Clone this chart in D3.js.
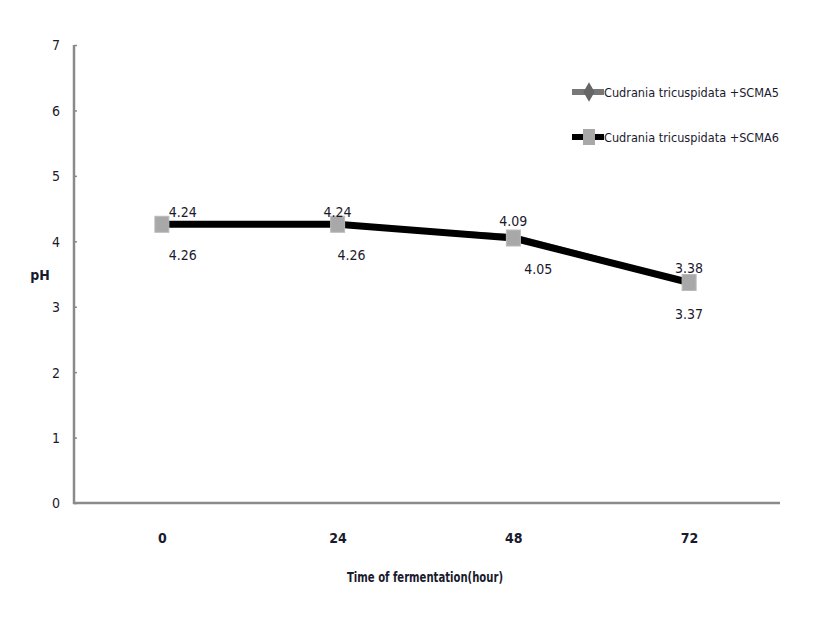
<!DOCTYPE html>
<html><head><meta charset="utf-8">
<script src="https://cdn.jsdelivr.net/npm/d3@7"></script>
<style>
body{margin:0;background:#fff;}
text{font-family:"Liberation Sans Narrow","DejaVu Sans Condensed","Liberation Sans",sans-serif;fill:#1a1a2e;}
</style></head><body>
<svg id="c" width="827" height="618"></svg>
<script>
const categories = ["0", "24", "48", "72"];
const seriesNames = ["Cudrania tricuspidata +SCMA5", "Cudrania tricuspidata +SCMA6"];
const scma5 = [4.24, 4.24, 4.09, 3.38];
const scma6 = [4.26, 4.26, 4.05, 3.37];
const yTicks = [0, 1, 2, 3, 4, 5, 6, 7];

const svg = d3.select("#c");
const pLeft = 74, pRight = 777, pTop = 45, pBottom = 503;
const x = d3.scalePoint().domain(categories).range([pLeft, pRight]).padding(0.5);
const y = d3.scaleLinear().domain([0, 7]).range([pBottom, pTop]);

// axes
const ya = svg.append("g").attr("transform", `translate(${pLeft},0)`)
  .call(d3.axisRight(y).tickValues(yTicks).tickSize(3).tickFormat(d3.format("d")));
ya.select(".domain").remove();
ya.selectAll(".tick line").attr("stroke", "#888").attr("stroke-width", 1.5);
ya.selectAll(".tick text").attr("x", -18).attr("text-anchor", "middle").attr("font-size", 14).attr("dy", "0.35em");
svg.append("line").attr("x1", pLeft).attr("x2", pLeft).attr("y1", pTop).attr("y2", pBottom + 1)
  .attr("stroke", "#8a8a8a").attr("stroke-width", 2.5);

const xa = svg.append("g").attr("transform", `translate(0,${pBottom})`)
  .call(d3.axisBottom(x).tickSize(0).tickPadding(30));
xa.select(".domain").remove();
xa.selectAll(".tick text").attr("font-size", 14).attr("font-weight", "bold");
svg.append("line").attr("x1", pLeft - 1).attr("x2", pRight + 3).attr("y1", pBottom).attr("y2", pBottom)
  .attr("stroke", "#8a8a8a").attr("stroke-width", 2.5);

svg.append("text").attr("x", 425).attr("y", 582).attr("text-anchor", "middle")
  .attr("font-size", 14).attr("font-weight", "bold").attr("textLength", 156).attr("lengthAdjust", "spacingAndGlyphs")
  .text("Time of fermentation(hour)");
svg.append("text").attr("x", 40).attr("y", 280).attr("text-anchor", "middle")
  .attr("font-size", 14).attr("font-weight", "bold").text("pH");

// lines
const line = d3.line().x((d, i) => x(categories[i])).y(d => y(d));
svg.append("path").datum(scma5).attr("d", line).attr("fill", "none").attr("stroke", "#777").attr("stroke-width", 3);
svg.append("path").datum(scma6).attr("d", line).attr("fill", "none").attr("stroke", "#000").attr("stroke-width", 7);

// markers
svg.selectAll(".m6").data(scma6).join("rect")
  .attr("x", (d, i) => x(categories[i]) - 7).attr("y", d => y(d) - 8)
  .attr("width", 14).attr("height", 16).attr("fill", "#a8a8a8").attr("stroke", "#bbb");

// data labels
const nudgeTop = [21, 0, 0, 0], nudgeBot = [21, 14, 25, 0];
svg.selectAll(".lt").data(scma5).join("text")
  .attr("x", (d, i) => x(categories[i]) + nudgeTop[i]).attr("y", d => y(d) - 9)
  .attr("text-anchor", "middle").attr("font-size", 14).text(d => d.toFixed(2));
svg.selectAll(".lb").data(scma6).join("text")
  .attr("x", (d, i) => x(categories[i]) + nudgeBot[i]).attr("y", d => y(d) + 36)
  .attr("text-anchor", "middle").attr("font-size", 14).text(d => d.toFixed(2));

// legend
const lg = svg.append("g");
const ly = [92, 137];
lg.append("line").attr("x1", 572).attr("x2", 604).attr("y1", ly[0]).attr("y2", ly[0]).attr("stroke", "#777").attr("stroke-width", 6);
lg.append("path").attr("d", d3.symbol(d3.symbolDiamond, 110)()).attr("transform", `translate(589,${ly[0]})`).attr("fill", "#666");
lg.append("line").attr("x1", 572).attr("x2", 604).attr("y1", ly[1]).attr("y2", ly[1]).attr("stroke", "#000").attr("stroke-width", 6);
lg.append("rect").attr("x", 583).attr("y", ly[1] - 8).attr("width", 12).attr("height", 16).attr("fill", "#a8a8a8");
seriesNames.forEach((n, i) => {
  lg.append("text").attr("x", 604).attr("y", ly[i]).attr("dy", "0.35em").attr("font-size", 13)
    .attr("textLength", 175).attr("lengthAdjust", "spacingAndGlyphs").text(n);
});
</script>
</body></html>
